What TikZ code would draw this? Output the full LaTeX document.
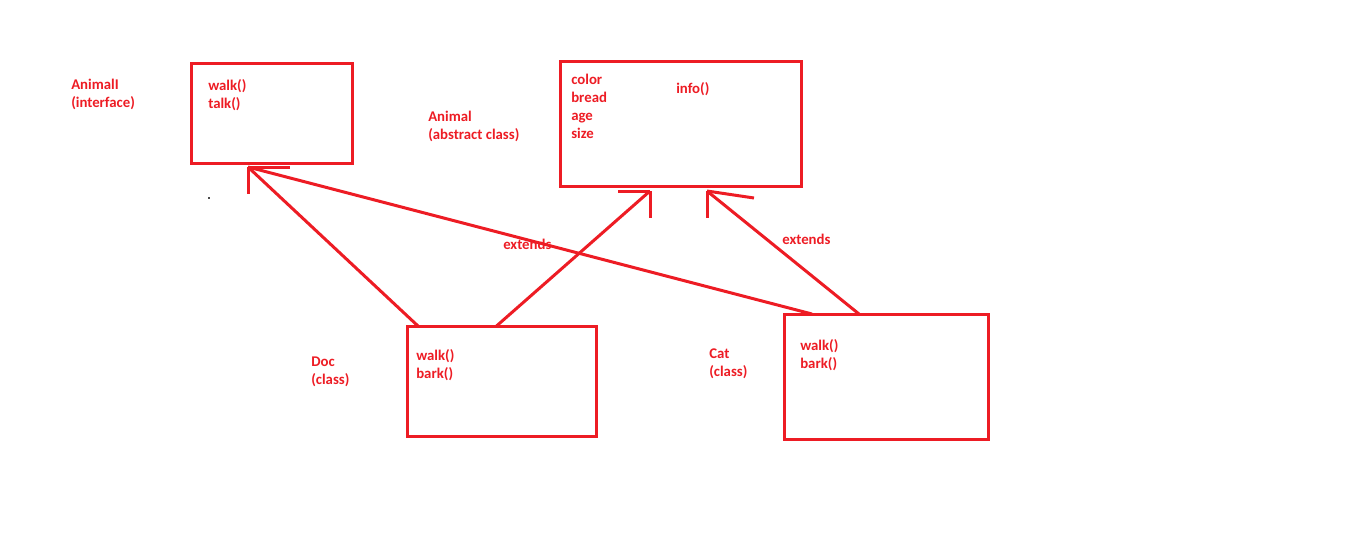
\documentclass[tikz,border=0pt]{standalone}
\usepackage{fontspec}
\setmainfont{Carlito}
\usepackage{tikz}
\usetikzlibrary{positioning}
\definecolor{paintred}{RGB}{237,28,36}

\begin{document}
\begin{tikzpicture}[x=0.75pt,y=0.75pt,yscale=-1,xscale=1,
  box/.style={draw=paintred,line width=2.25pt,inner sep=0pt,outer sep=0pt},
  link/.style={draw=paintred,line width=2.25pt},
  lbl/.style={text=paintred,font=\bfseries\fontsize{11.1}{13.5}\selectfont,align=left,anchor=north west,inner sep=0pt}]
%set diagram left start at 0, and has height of 558
\useasboundingbox (0,0) rectangle (1359,558);

%Shape: Rectangle [Animall]
\node (iface) [box,minimum width=120.75pt,minimum height=75pt] at (271.5,113) {};
%Shape: Rectangle [Animal]
\node (animal) [box,minimum width=180.75pt,minimum height=93.75pt] at (681,123.5) {};
%Shape: Rectangle [Doc]
\node (doc) [box,minimum width=141.75pt,minimum height=82.5pt] at (501.5,381) {};
%Shape: Rectangle [Cat]
\node (cat) [box,minimum width=153pt,minimum height=93.75pt] at (886,376.5) {};

% Text Node
\node (ifacename) [lbl] at (71,79) {AnimalI\\(interface)};
% Text Node
\node (ifaceops) [lbl] at (208,79) {walk()\\talk()};
% Text Node
\node (animalname) [lbl] at (428,111) {Animal\\(abstract class)};
% Text Node
\node (animalattr) [lbl] at (571,74) {color\\bread\\age\\size};
% Text Node
\node (animalops) [lbl] at (676,82) {info()};
% Text Node
\node (docname) [lbl] at (311,357) {Doc\\(class)};
% Text Node
\node (docops) [lbl] at (416,349) {walk()\\bark()};
% Text Node
\node (catname) [lbl] at (709,349) {Cat\\(class)};
% Text Node
\node (catops) [lbl] at (800,339) {walk()\\bark()};
% Text Node
\node (extendsdoc) [lbl] at (503,239) {extends};
% Text Node
\node (extendscat) [lbl] at (782,234) {extends};

% stray dot
\fill [black!70] (208,197) rectangle (210,199);

% arrow tips
\coordinate (ifacetip) at (248,167);
\coordinate (animaltipa) at (650,191);
\coordinate (animaltipb) at (707,191);

% Connection
\draw [link] ([xshift=8.25pt]doc.north west) -- (ifacetip);
\draw [link] (ifacetip) -- ++(42,0);
\draw [link] (ifacetip) -- ++(0,27);
% Connection
\draw [link] ([xshift=21pt]cat.north west) -- (ifacetip);
% Connection
\draw [link] ([xshift=-3.75pt]doc.north) -- (animaltipa);
\draw [link] (animaltipa) -- ++(-32,0);
\draw [link] (animaltipa) -- ++(0,27);
% Connection
\draw [link] ([xshift=56.25pt]cat.north west) -- (animaltipb);
\draw [link] (animaltipb) -- (754,198);
\draw [link] (animaltipb) -- ++(0,27);

\end{tikzpicture}
\end{document}
